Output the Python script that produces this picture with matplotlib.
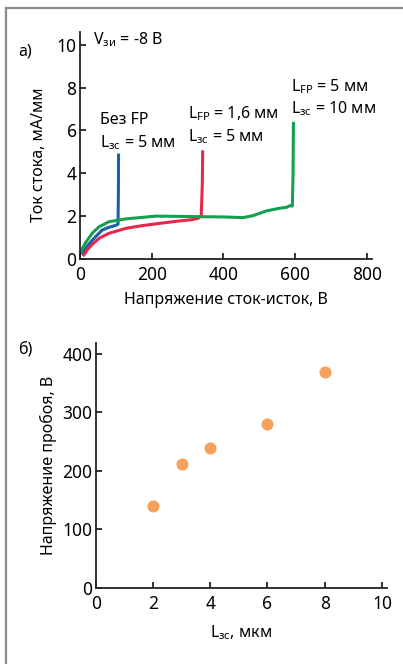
import matplotlib.pyplot as plt
from matplotlib.lines import Line2D

plt.rcParams['font.family'] = ['Noto Sans', 'DejaVu Sans']
plt.rcParams['mathtext.fontset'] = 'custom'
plt.rcParams['mathtext.rm'] = 'Noto Sans'
plt.rcParams['mathtext.it'] = 'Noto Sans'
plt.rcParams['mathtext.default'] = 'regular'

# а) ВАХ: ток стока от напряжения сток-исток
u_bez_fp = [6, 20, 35, 50, 62, 81, 100, 106, 107, 107.5]
i_bez_fp = [0.27, 0.6, 0.89, 1.15, 1.35, 1.48, 1.57, 1.62, 3.0, 4.85]

u_fp16 = [11, 20, 35, 55, 81, 128, 175, 221, 270, 314, 330, 338, 341, 342]
i_fp16 = [0.19, 0.42, 0.70, 0.98, 1.2, 1.43, 1.56, 1.66, 1.76, 1.84, 1.9, 2.02, 3.5, 5.0]

u_fp5 = [2, 15, 34, 53, 81, 128, 212, 314, 400, 454, 482, 519, 557, 576, 585, 592, 594, 595]
i_fp5 = [0.34, 0.75, 1.2, 1.5, 1.74, 1.87, 2.0, 1.98, 1.96, 1.93, 2.02, 2.24, 2.37, 2.41, 2.49, 2.47, 4.0, 6.33]

# б) напряжение пробоя от L_зс
l_zs = [2, 3, 4, 6, 8]
u_proboy = [139, 211, 240, 281, 370]

fig = plt.figure(figsize=(4.03, 6.64), dpi=100)

# рамка слева и сверху
fig.add_artist(Line2D([0.014, 0.014], [0, 0.988], color='#8c8c8c', lw=1.6))
fig.add_artist(Line2D([0.014, 1.0], [0.988, 0.988], color='#8c8c8c', lw=1.6))

fs_tick = 12.5
fs_lab = 11.5

ax1 = fig.add_axes([0.1985, 0.610, 0.7245, 0.342])
ax1.plot(u_bez_fp, i_bez_fp, color='#1a5fa8', lw=2.2)
ax1.plot(u_fp16, i_fp16, color='#e8284a', lw=2.2)
ax1.plot(u_fp5, i_fp5, color='#13a050', lw=2.2)
ax1.set_xlim(0, 814)
ax1.set_ylim(0, 10.6)
ax1.set_xticks([0, 200, 400, 600, 800])
ax1.set_yticks([0, 2, 4, 6, 8, 10])
ax1.set_xlabel('Напряжение сток-исток, В', fontsize=fs_lab, labelpad=6)
ax1.set_ylabel('Ток стока, мА/мм', fontsize=fs_lab)
ax1.yaxis.set_label_coords(-0.113, 0.458)
fig.text(25 / 403, 1 - 52 / 664, 'а)', fontsize=fs_lab, ha='center', va='center')
ax1.text(36, 10.03, 'V$_{зи}$ = -8 В', fontsize=fs_lab, ha='left', va='baseline')
ax1.text(56, 6.3, 'Без FP', fontsize=fs_lab, ha='left', va='baseline')
ax1.text(56, 5.23, 'L$_{зс}$ = 5 мм', fontsize=fs_lab, ha='left', va='baseline')
ax1.text(300, 6.58, 'L$_{FP}$ = 1,6 мм', fontsize=fs_lab, ha='left', va='baseline')
ax1.text(300, 5.5, 'L$_{зс}$ = 5 мм', fontsize=fs_lab, ha='left', va='baseline')
ax1.text(588, 7.84, 'L$_{FP}$ = 5 мм', fontsize=fs_lab, ha='left', va='baseline')
ax1.text(588, 6.81, 'L$_{зс}$ = 10 мм', fontsize=fs_lab, ha='left', va='baseline')

ax2 = fig.add_axes([0.2375, 0.115, 0.7225, 0.3684])
ax2.plot(l_zs, u_proboy, 'o', color='#f5a25c', markersize=8.7, markeredgewidth=0)
ax2.set_xlim(0, 10.17)
ax2.set_ylim(0, 419)
ax2.set_xticks([0, 2, 4, 6, 8, 10])
ax2.set_yticks([0, 100, 200, 300, 400])
ax2.set_xlabel('L$_{зс}$, мкм', fontsize=fs_lab, labelpad=8)
ax2.set_ylabel('Напряжение пробоя, В', fontsize=fs_lab, labelpad=4)
fig.text(25 / 403, 1 - 350 / 664, 'б)', fontsize=fs_lab, ha='center', va='center')

for ax in (ax1, ax2):
    ax.spines['top'].set_visible(False)
    ax.spines['right'].set_visible(False)
    for s in ('left', 'bottom'):
        ax.spines[s].set_linewidth(1.3)
        ax.spines[s].set_color('#222222')
    ax.tick_params(direction='in', length=4, width=1.3, labelsize=fs_tick, color='#222222')
    ax.tick_params(axis='x', pad=5)
    ax.tick_params(axis='y', pad=2.5)

plt.savefig('out.png', dpi=100)
